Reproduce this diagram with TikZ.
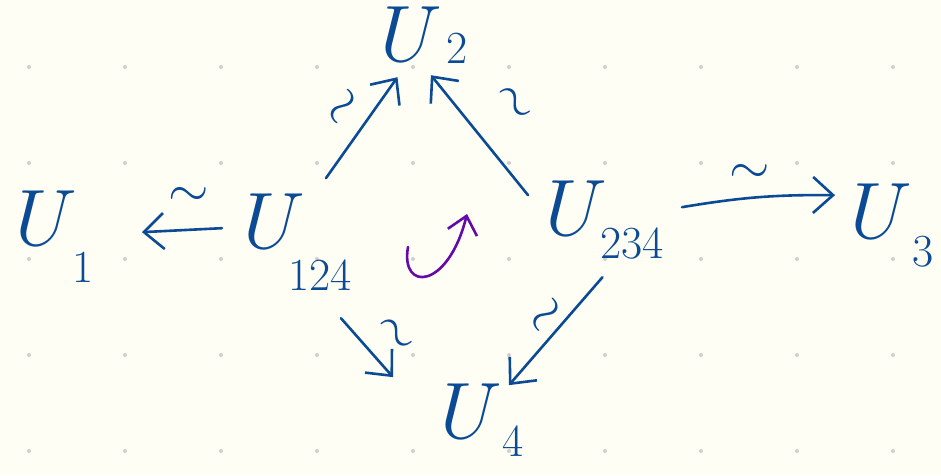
\RequirePackage{fix-cm}
\documentclass[tikz,border=0pt]{standalone}
\usetikzlibrary{arrows.meta}
\definecolor{ink}{HTML}{0B4A94}
\definecolor{violetink}{HTML}{640AAA}
\definecolor{paper}{HTML}{FEFEF4}
\definecolor{dotgrey}{HTML}{CFCFCF}
\tikzset{
  obj/.style={text=ink, inner sep=0pt, anchor=base west, font=\fontsize{80}{80}\selectfont},
  idx/.style={text=ink, inner sep=0pt, anchor=base west, font=\fontsize{46}{46}\selectfont},
  map/.style={draw=ink, line width=2.6pt, line cap=round, line join=round,
    -{Straight Barb[length=20pt,width=36pt,line width=2.6pt]}},
  iso/.style={text=ink, font=\fontsize{52}{52}\selectfont, inner sep=0pt},
  rot/.style={draw=violetink, line width=2.6pt, line cap=round,
    -{Straight Barb[length=17pt,width=30pt,line width=2.6pt]}},
}
\begin{document}
\begin{tikzpicture}[x=1pt,y=-1pt]
\fill[paper] (0,0) rectangle (941,475);
\useasboundingbox (0,0) rectangle (941,475);
\foreach \i in {0,...,9}{\foreach \j in {0,...,4}{
  \fill[dotgrey] (29+96*\i,67+96*\j) circle[radius=2pt];}}
% objects
\node[obj] (u2)   at (380,61)  {$U$};
\node[idx] (u2i)  at (446,63)  {2};
\node[obj] (u1)   at (15,245)  {$U$};
\node[idx] (u1i)  at (72,282)  {1};
\node[obj] (u124) at (243,248) {$U$};
\node[idx] (u124i) at (288,290) {124};
\node[obj] (u234) at (545,235) {$U$};
\node[idx] (u234i) at (600,258) {234};
\node[obj] (u3)   at (850,238) {$U$};
\node[idx] (u3i)  at (912,266) {3};
\node[obj] (u4)   at (440,438) {$U$};
\node[idx] (u4i)  at (502,456) {4};
% maps
\draw[map] ([shift={(21,-15)}]u124.north east) -- ([shift={(-13.5,16)}]u2.south)
  node[iso, pos=.55, sloped, above=13pt] {$\sim$};
\draw[map] ([shift={(-17,15)}]u234.north west) -- ([shift={(-11,14)}]u2.south east)
  node[iso, pos=.52, sloped, above=34pt] {$\sim$};
\draw[map] ([shift={(-21,7.5)}]u124.west) -- ([shift={(65,14.5)}]u1.east)
  node[iso, pos=.42, above=22pt] {$\sim$};
\draw[map] ([shift={(75,-0.5)}]u234.east) to[bend left=5]
  node[iso, pos=.44, above=13pt] {$\sim$} ([shift={(-15,-15.5)}]u3.west);
\draw[map] ([shift={(36,70)}]u124.south east) -- ([shift={(-47,-6)}]u4.north west)
  node[iso, pos=.61, sloped, above=17pt] {$\sim$};
\draw[map] ([shift={(26.5,42)}]u234.south) -- ([shift={(7,2)}]u4.north east)
  node[iso, pos=.46, sloped, above=4pt] {$\sim$};
% orientation
\coordinate (rotA) at (408,247);
\coordinate (rotB) at (467,214);
\draw[rot] (rotA) .. controls (400,292) and (448,290) .. (rotB);
\end{tikzpicture}
\end{document}
